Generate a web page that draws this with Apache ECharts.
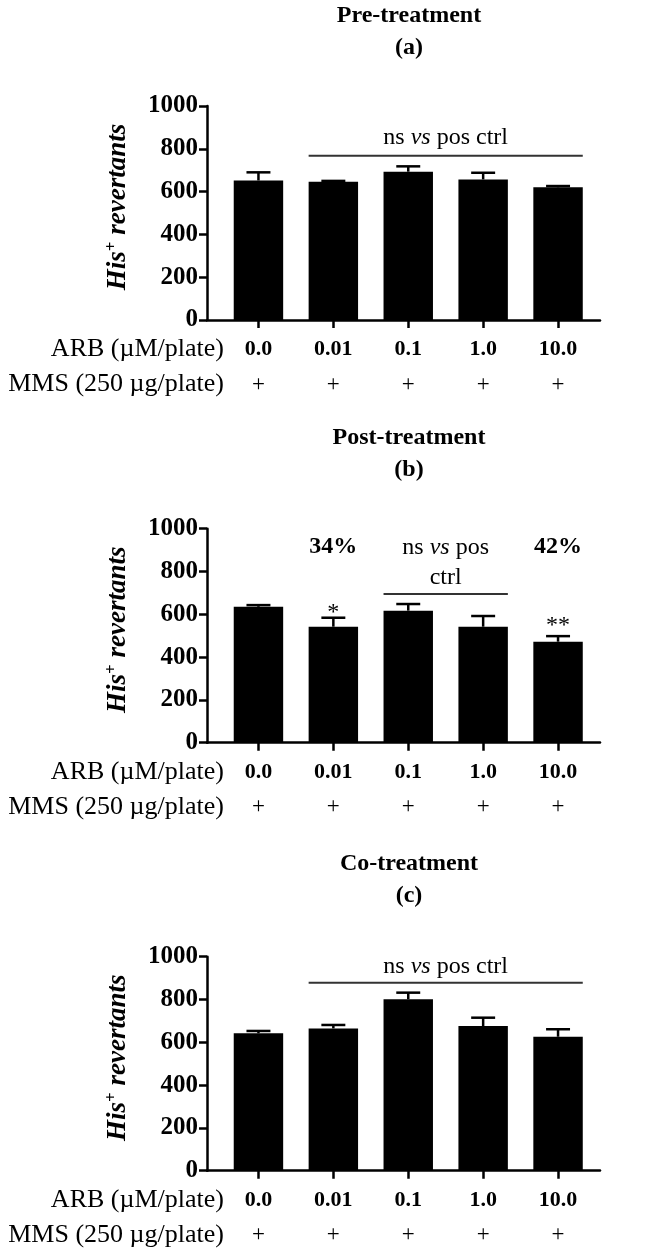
<!DOCTYPE html>
<html><head><meta charset="utf-8">
<script src="https://cdn.jsdelivr.net/npm/echarts@6/dist/echarts.min.js"></script>
<style>html,body{margin:0;padding:0;background:#fff}#c{width:665px;height:1250px}</style>
</head><body><div id="c"></div>
<script>
// ---- data ----
const categories = ['0.0', '0.01', '0.1', '1.0', '10.0'];
const mmsRow = ['+', '+', '+', '+', '+'];
const yMin = 0, yMax = 1000, yStep = 200;
const preMeans = [652, 646, 693, 657, 620];
const preErr = [38, 4, 25, 31, 6];
const postMeans = [635, 542, 617, 542, 472];
const postErr = [8, 42, 31, 50, 26];
const coMeans = [642, 665, 801, 676, 626];
const coErr = [11, 16, 31, 39, 35];
const panelTitles = ['Pre-treatment\n(a)', 'Post-treatment\n(b)', 'Co-treatment\n(c)'];
const rowLabels = ['ARB (µM/plate)', 'MMS (250 µg/plate)'];
const yName = ['His', '+', ' revertants'];
// brackets: [fromIdx, toIdx, lineValue, textValue, text]
const preBrackets = [[1, 4, 768, 850, 'ns|vs|pos ctrl']];
const postBrackets = [[2, 3, 695, 842, 'ns|vs|pos\nctrl']];
const coBrackets = [[1, 4, 878, 953, 'ns|vs|pos ctrl']];
// marks: [idx, value, text]
const postPercents = [[1, 916, '34%'], [4, 916, '42%']];
const postStars = [[1, 607, '*'], [4, 548, '**']];

// ---- layout ----
const FONT = '"Liberation Serif", "Times New Roman", serif';
const panelTops = [106, 528.7, 956.7];
const titleTops = [0, 422, 848];
const plotH = 214;
const axisLeft = 207, axisRight = 600;
const barsLeft = 221, barsRight = 595.5;
const BAR_FRAC = 0.66;
const titleCenter = 409, rowLabelRight = 224;

const panels = [
  {means: preMeans, err: preErr, brackets: preBrackets, percents: [], stars: []},
  {means: postMeans, err: postErr, brackets: postBrackets, percents: postPercents, stars: postStars},
  {means: coMeans, err: coErr, brackets: coBrackets, percents: [], stars: []}
];

const grid = [], xAxis = [], yAxis = [], series = [], title = [];

function bracketText(t) {
  return t.split('\n').map(line => {
    const parts = line.split('|');
    if (parts.length === 3) return '{n|' + parts[0] + ' }{i|' + parts[1] + '}{n| ' + parts[2] + '}';
    return '{n|' + line + '}';
  }).join('\n');
}

panels.forEach((p, i) => {
  const top = panelTops[i];
  const gA = 2 * i, gB = 2 * i + 1;
  grid.push({left: axisLeft, width: axisRight - axisLeft, top: top, height: plotH});
  grid.push({left: barsLeft, width: barsRight - barsLeft, top: top, height: plotH});
  xAxis.push({type: 'value', gridIndex: gA, min: 0, max: 1,
    axisLine: {show: true, onZero: false, lineStyle: {color: '#000', width: 2.5}},
    axisTick: {show: false}, axisLabel: {show: false}, splitLine: {show: false}});
  yAxis.push({type: 'value', gridIndex: gA, min: yMin, max: yMax, interval: yStep,
    axisLine: {show: true, lineStyle: {color: '#000', width: 2.5}},
    axisTick: {show: true, length: 8, lineStyle: {color: '#000', width: 2.5}},
    axisLabel: {margin: 9, color: '#000', fontFamily: FONT, fontWeight: 'bold', fontSize: 25,
      formatter: v => String(v)},
    splitLine: {show: false},
    name: '{h|' + yName[0] + '}{s|' + yName[1] + '}{h|' + yName[2] + '}',
    nameLocation: 'middle', nameGap: 74,
    nameTextStyle: {padding: [0, 0, 0, 12], rich: {
      h: {fontFamily: FONT, fontWeight: 'bold', fontStyle: 'italic', fontSize: 27, lineHeight: 30, color: '#000'},
      s: {fontFamily: FONT, fontWeight: 'bold', fontSize: 17, lineHeight: 16, verticalAlign: 'top', color: '#000'}
    }}});
  xAxis.push({type: 'category', gridIndex: gB, data: categories,
    axisLine: {show: false},
    axisTick: {show: true, alignWithLabel: true, length: 8, lineStyle: {color: '#000', width: 2.5}},
    axisLabel: {margin: 12, interval: 0,
      formatter: (v, idx) => '{b|' + v + '}\n{p|' + mmsRow[idx] + '}',
      rich: {
        b: {fontFamily: FONT, fontWeight: 'bold', fontSize: 22, lineHeight: 35, color: '#000'},
        p: {fontFamily: FONT, fontSize: 23, lineHeight: 35, color: '#000'}
      }}});
  yAxis.push({type: 'value', gridIndex: gB, min: yMin, max: yMax, show: false});

  series.push({type: 'bar', xAxisIndex: 2 * i + 1, yAxisIndex: 2 * i + 1,
    data: p.means, barWidth: (BAR_FRAC * 100) + '%', itemStyle: {color: '#000'}, silent: true, z: 2});
  series.push({type: 'custom', xAxisIndex: 2 * i + 1, yAxisIndex: 2 * i + 1, z: 3, silent: true,
    data: p.means.map((m, k) => [k, m, p.err[k]]),
    renderItem: (params, api) => {
      const k = api.value(0), m = api.value(1), e = api.value(2);
      const base = api.coord([k, m]);
      const tip = api.coord([k, m + e]);
      const capHalf = api.size([1, 0])[0] * 0.16;
      return {type: 'group', children: [
        {type: 'line', shape: {x1: base[0], y1: base[1], x2: tip[0], y2: tip[1]}, style: {stroke: '#000', lineWidth: 2.5}},
        {type: 'line', shape: {x1: tip[0] - capHalf, y1: tip[1], x2: tip[0] + capHalf, y2: tip[1]}, style: {stroke: '#000', lineWidth: 2.5}}
      ]};
    }});
  series.push({type: 'custom', xAxisIndex: 2 * i + 1, yAxisIndex: 2 * i + 1, z: 3, silent: true,
    data: p.brackets.map(b => [b[0], b[1], b[2], b[3]]),
    renderItem: (params, api) => {
      const b = p.brackets[params.dataIndex];
      const a = api.coord([b[0], b[2]]);
      const c = api.coord([b[1], b[2]]);
      const half = api.size([1, 0])[0] * BAR_FRAC / 2;
      const t = api.coord([b[0], b[3]]);
      return {type: 'group', children: [
        {type: 'line', shape: {x1: a[0] - half, y1: a[1], x2: c[0] + half, y2: c[1]}, style: {stroke: '#333', lineWidth: 2}},
        {type: 'text', x: (a[0] + c[0]) / 2, y: t[1], style: {
          text: bracketText(b[4]), align: 'center', verticalAlign: 'middle',
          rich: {
            n: {fontFamily: FONT, fontSize: 24, lineHeight: 30, fill: '#000'},
            i: {fontFamily: FONT, fontSize: 24, fontStyle: 'italic', lineHeight: 30, fill: '#000'}
          }}}
      ]};
    }});
  series.push({type: 'custom', xAxisIndex: 2 * i + 1, yAxisIndex: 2 * i + 1, z: 3, silent: true,
    data: p.percents.concat(p.stars).map(d => [d[0], d[1]]),
    renderItem: (params, api) => {
      const all = p.percents.concat(p.stars);
      const d = all[params.dataIndex];
      const isPct = params.dataIndex < p.percents.length;
      const pt = api.coord([d[0], d[1]]);
      return {type: 'text', x: pt[0], y: pt[1], style: {
        text: d[2], align: 'center', verticalAlign: 'middle',
        font: (isPct ? 'bold ' : '') + '24px ' + FONT, fill: '#000'}};
    }});

  title.push({text: panelTitles[i], left: titleCenter, top: titleTops[i], textAlign: 'center', padding: 0,
    textStyle: {fontFamily: FONT, fontWeight: 'bold', fontSize: 24, lineHeight: 32, color: '#000'}});
  title.push({text: rowLabels.join('\n'), left: rowLabelRight, top: top + plotH + 12, textAlign: 'right', padding: 0,
    textStyle: {fontFamily: FONT, fontWeight: 'normal', fontSize: 26, lineHeight: 35, color: '#000'}});
});

const chart = echarts.init(document.getElementById('c'), null, {renderer: 'canvas'});
chart.setOption({animation: false, backgroundColor: '#fff', title, grid, xAxis, yAxis, series});
</script></body></html>
